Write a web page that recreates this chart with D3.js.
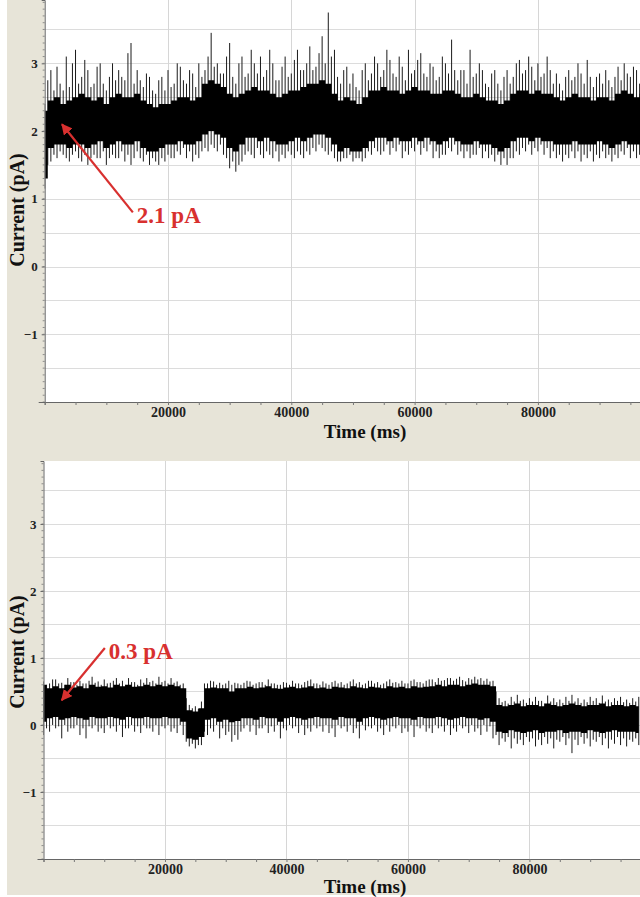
<!DOCTYPE html>
<html><head><meta charset="utf-8">
<script src="https://cdn.jsdelivr.net/npm/d3@7"></script>
<style>html,body{margin:0;padding:0;background:#fff;}svg{display:block;}</style>
</head><body>
<svg id="chart" width="640" height="897"></svg>
<script>
// ---------- data ----------
const coreTimes = d3.range(0, 98001, 1000);   // ms, dense-band samples (every 1 s)
const spikeTimes = d3.range(0, 98001, 500);   // ms, extreme samples (every 0.5 s)
const xTickValues = [20000, 40000, 60000, 80000];
const yTickValues = [-1, 0, 1, 2, 3];

// Top trace: dense band (pA), one value per second
const topCoreLow = [1.3,1.75,1.8,1.8,1.75,1.8,1.8,1.75,1.8,1.85,
1.75,1.8,1.85,1.8,1.8,1.85,1.75,1.7,1.7,1.75,
1.8,1.8,1.85,1.8,1.8,1.85,1.95,2.0,1.95,1.9,
1.75,1.7,1.8,1.9,1.9,1.85,1.9,1.85,1.8,1.8,
1.85,1.9,1.85,1.9,1.95,1.95,1.9,1.8,1.7,1.75,
1.7,1.7,1.75,1.85,1.9,1.9,1.85,1.9,1.85,1.85,
1.9,1.85,1.9,1.85,1.8,1.85,1.9,1.85,1.8,1.8,
1.85,1.8,1.8,1.75,1.7,1.75,1.85,1.9,1.9,1.85,
1.9,1.85,1.85,1.8,1.8,1.8,1.85,1.8,1.8,1.8,
1.85,1.8,1.75,1.8,1.85,1.8,1.8,1.8,1.85];
const topCoreHigh = [2.3,2.45,2.5,2.4,2.45,2.5,2.55,2.5,2.45,2.5,
2.4,2.5,2.55,2.5,2.5,2.55,2.45,2.4,2.35,2.4,
2.4,2.45,2.5,2.5,2.45,2.5,2.7,2.75,2.7,2.65,
2.55,2.5,2.55,2.6,2.65,2.6,2.6,2.55,2.5,2.55,
2.6,2.6,2.65,2.7,2.7,2.75,2.7,2.55,2.45,2.5,
2.45,2.4,2.5,2.6,2.6,2.65,2.6,2.6,2.55,2.6,
2.65,2.6,2.6,2.55,2.55,2.6,2.6,2.55,2.5,2.5,
2.55,2.5,2.45,2.45,2.4,2.45,2.55,2.6,2.6,2.55,
2.6,2.55,2.55,2.5,2.45,2.5,2.55,2.5,2.5,2.45,
2.5,2.5,2.45,2.55,2.6,2.55,2.5,2.55,2.5];
// Top trace: extremes (pA), one value per half second
const topMax = [2.4,2.75, 2.9,2.6, 2.95,2.7, 2.6,3.1, 2.65,3.0,
3.2,2.7, 2.8,3.05, 2.9,2.65, 2.7,2.95, 3.0,2.7,
2.6,2.8, 3.0,2.75, 2.9,2.8, 2.75,3.15, 3.3,2.7,
2.9,2.75, 2.65,2.85, 2.8,2.6, 2.55,2.75, 2.8,2.6,
2.9,2.65, 2.7,3.0, 2.95,2.75, 2.7,2.9, 2.85,2.65,
3.0,2.8, 2.9,3.1, 3.45,2.95, 3.0,2.85, 2.85,3.1,
3.3,2.8, 2.7,3.0, 3.1,2.8, 2.85,3.2, 3.0,2.85,
3.1,2.8, 2.9,3.2, 3.0,2.75, 2.75,2.95, 3.1,2.8,
2.85,3.05, 3.2,2.9, 2.9,3.0, 3.25,2.9, 2.95,3.15,
3.4,3.0, 3.75,3.1, 3.2,2.8, 2.7,2.9, 2.95,2.7,
2.85,2.65, 2.6,2.9, 3.0,2.75, 2.85,3.1, 3.0,2.8,
2.9,3.2, 3.05,2.85, 2.8,3.1, 2.95,2.75, 3.2,2.85,
2.9,3.05, 3.15,2.85, 2.8,3.0, 2.95,2.75, 2.8,3.1,
3.0,2.85, 3.35,2.9, 2.75,2.9, 2.9,2.7, 3.2,2.8,
2.85,3.0, 2.9,2.7, 2.65,2.85, 2.9,2.7, 2.6,2.8,
2.9,2.7, 2.8,3.0, 3.05,2.85, 2.9,3.1, 2.95,2.75,
3.0,2.8, 2.85,3.1, 2.9,2.7, 2.85,2.7, 2.6,2.8,
2.9,2.75, 2.8,3.0, 2.85,2.7, 3.05,2.8, 2.65,2.8,
2.85,2.7, 2.9,2.75, 2.65,2.8, 2.95,2.75, 3.0,2.85,
2.8,2.95, 2.9,2.7, 2.75,2.85, 2.9];
const topMin = [1.15,1.5, 1.55,1.65, 1.6,1.7, 1.65,1.6, 1.55,1.65,
1.7,1.6, 1.55,1.65, 1.5,1.6, 1.65,1.6, 1.6,1.7,
1.5,1.6, 1.65,1.6, 1.6,1.7, 1.55,1.65, 1.5,1.6,
1.7,1.6, 1.55,1.65, 1.5,1.6, 1.55,1.5, 1.6,1.55,
1.65,1.6, 1.6,1.7, 1.65,1.75, 1.6,1.7, 1.55,1.65,
1.6,1.7, 1.75,1.7, 1.8,1.75, 1.7,1.8, 1.65,1.6,
1.45,1.55, 1.4,1.5, 1.55,1.65, 1.7,1.65, 1.6,1.75,
1.65,1.6, 1.7,1.65, 1.6,1.7, 1.55,1.65, 1.6,1.7,
1.65,1.6, 1.7,1.65, 1.6,1.7, 1.65,1.75, 1.7,1.8,
1.75,1.7, 1.65,1.7, 1.6,1.55, 1.55,1.6, 1.6,1.65,
1.55,1.6, 1.6,1.55, 1.6,1.7, 1.65,1.75, 1.7,1.65,
1.7,1.8, 1.65,1.75, 1.7,1.8, 1.6,1.7, 1.65,1.75,
1.7,1.8, 1.65,1.75, 1.7,1.8, 1.6,1.7, 1.6,1.65,
1.65,1.75, 1.7,1.8, 1.65,1.7, 1.6,1.7, 1.6,1.65,
1.65,1.75, 1.6,1.7, 1.6,1.65, 1.55,1.65, 1.5,1.6,
1.5,1.6, 1.6,1.7, 1.65,1.75, 1.7,1.8, 1.65,1.75,
1.7,1.8, 1.65,1.75, 1.6,1.7, 1.6,1.65, 1.55,1.65,
1.6,1.7, 1.6,1.7, 1.55,1.65, 1.6,1.7, 1.55,1.65,
1.6,1.7, 1.6,1.65, 1.55,1.65, 1.6,1.7, 1.65,1.75,
1.6,1.7, 1.6,1.65, 1.6,1.7, 1.65];

// Bottom trace: dense band (pA), one value per second
const botCoreLow = [0.05,0.1,0.12,0.08,0.1,0.12,0.1,0.08,0.12,0.1,0.1,0.12,0.1,0.08,0.12,0.1,0.1,0.12,0.1,0.1,0.12,0.1,0.1,0.05,
-0.2,-0.22,-0.18,
0.08,0.1,0.05,0.08,0.04,0.06,0.1,
0.1,0.08,0.12,0.1,0.1,0.05,0.1,0.12,0.1,0.08,0.1,0.12,0.1,0.1,0.08,0.12,0.1,0.1,0.05,0.1,0.12,0.1,0.08,0.1,0.12,0.1,0.1,0.08,0.12,0.1,0.1,0.12,0.1,0.08,0.1,0.12,0.1,0.1,0.08,0.1,0.05,
-0.1,-0.12,-0.08,-0.1,-0.12,-0.1,-0.08,-0.12,-0.1,-0.1,-0.08,-0.12,-0.1,-0.1,-0.12,-0.08,-0.1,-0.12,-0.1,-0.08,-0.1,-0.1,-0.1,-0.12];
const botCoreHigh = [0.6,0.55,0.58,0.55,0.6,0.56,0.58,0.55,0.6,0.57,0.58,0.56,0.6,0.58,0.6,0.57,0.58,0.6,0.58,0.6,0.58,0.6,0.58,0.55,
0.22,0.2,0.25,
0.55,0.56,0.55,0.55,0.5,0.55,0.55,
0.57,0.55,0.56,0.58,0.55,0.54,0.56,0.57,0.55,0.56,0.58,0.55,0.56,0.54,0.57,0.56,0.55,0.58,0.56,0.55,0.57,0.56,0.55,0.58,0.56,0.57,0.55,0.58,0.56,0.57,0.58,0.6,0.58,0.6,0.6,0.58,0.6,0.62,0.6,0.6,0.58,
0.3,0.28,0.3,0.32,0.28,0.3,0.3,0.28,0.32,0.3,0.28,0.3,0.32,0.3,0.28,0.3,0.3,0.32,0.28,0.3,0.3,0.28,0.3,0.28];
// Bottom trace: extremes (pA), one value per half second
const botMax = [0.65,0.6, 0.62,0.68, 0.68,0.62, 0.63,0.6, 0.7,0.64,
0.64,0.6, 0.66,0.62, 0.62,0.66, 0.72,0.63, 0.65,0.6,
0.68,0.62, 0.63,0.66, 0.7,0.62, 0.66,0.6, 0.7,0.64,
0.64,0.6, 0.68,0.63, 0.7,0.64, 0.66,0.62, 0.72,0.64,
0.66,0.62, 0.7,0.63, 0.65,0.6, 0.62,0.4,
0.3,0.25, 0.28,0.24, 0.35,0.62,
0.62,0.66, 0.65,0.6, 0.63,0.6, 0.62,0.66, 0.6,0.63, 0.62,0.6, 0.63,0.66,
0.65,0.6, 0.62,0.64, 0.64,0.6, 0.68,0.62, 0.62,0.6,
0.6,0.64, 0.63,0.6, 0.66,0.62, 0.62,0.6, 0.64,0.66,
0.68,0.62, 0.62,0.6, 0.65,0.62, 0.6,0.64, 0.66,0.62,
0.64,0.6, 0.62,0.65, 0.68,0.62, 0.64,0.6, 0.62,0.66,
0.66,0.62, 0.64,0.6, 0.62,0.65, 0.68,0.63, 0.64,0.62,
0.66,0.62, 0.62,0.66, 0.68,0.64, 0.64,0.62, 0.66,0.68,
0.68,0.64, 0.7,0.66, 0.67,0.7, 0.7,0.66, 0.69,0.72,
0.67,0.65, 0.7,0.68, 0.72,0.68, 0.7,0.66, 0.69,0.65,
0.66,0.5,
0.4,0.34, 0.36,0.32, 0.42,0.35, 0.45,0.36, 0.38,0.33,
0.4,0.35, 0.42,0.36, 0.36,0.32, 0.44,0.35, 0.4,0.34,
0.38,0.33, 0.42,0.36, 0.45,0.35, 0.4,0.33, 0.38,0.34,
0.42,0.36, 0.4,0.33, 0.44,0.35, 0.38,0.34, 0.4,0.36,
0.42,0.34, 0.38,0.33, 0.4,0.35, 0.42];
const botMin = [-0.15,-0.05, -0.1,0.0, -0.05,-0.02, -0.2,0.0, -0.1,-0.05,
-0.05,0.0, -0.15,-0.05, -0.2,-0.02, -0.05,0.0, -0.1,-0.05,
-0.12,0.0, -0.05,-0.02, -0.1,0.0, -0.18,-0.05, -0.05,0.0,
-0.1,-0.02, -0.12,0.0, -0.05,-0.05, -0.1,0.0, -0.15,-0.02,
-0.05,0.0, -0.1,-0.05, -0.12,0.0, -0.15,-0.25,
-0.32,-0.28, -0.35,-0.3, -0.3,-0.1,
-0.15,-0.05, -0.1,0.0, -0.2,-0.05, -0.15,-0.1, -0.25,-0.15, -0.22,-0.1, -0.05,0.0,
-0.1,0.0, -0.15,-0.05, -0.05,0.0, -0.12,-0.02, -0.1,0.0,
-0.2,-0.05, -0.08,0.0, -0.05,-0.02, -0.12,0.0, -0.15,-0.05,
-0.1,0.0, -0.05,-0.02, -0.1,0.0, -0.12,-0.05, -0.18,0.0,
-0.05,-0.02, -0.1,0.0, -0.12,-0.05, -0.2,0.0, -0.08,-0.02,
-0.05,0.0, -0.1,-0.05, -0.15,0.0, -0.1,-0.02, -0.05,0.0,
-0.12,-0.05, -0.1,0.0, -0.18,-0.02, -0.05,0.0, -0.1,-0.05,
-0.12,0.0, -0.05,-0.02, -0.1,0.0, -0.15,-0.05, -0.1,0.0,
-0.05,-0.02, -0.12,0.0, -0.1,-0.05, -0.15,0.0, -0.1,-0.02,
-0.2,-0.15,
-0.3,-0.2, -0.25,-0.18, -0.35,-0.2, -0.28,-0.22, -0.3,-0.18,
-0.25,-0.2, -0.32,-0.22, -0.3,-0.18, -0.28,-0.2, -0.35,-0.22,
-0.25,-0.18, -0.3,-0.2, -0.42,-0.22, -0.3,-0.18, -0.28,-0.2,
-0.32,-0.22, -0.25,-0.18, -0.3,-0.2, -0.35,-0.22, -0.28,-0.18,
-0.3,-0.2, -0.32,-0.22, -0.25,-0.2, -0.3];

// Annotations: [label, tipTime, tipValue, tailTime, tailValue]
const topAnnotation = ["2.1 pA", 2800, 2.1, 14300, 0.8];
const botAnnotation = ["0.3 pA", 3000, 0.37, 10100, 1.15];

// ---------- drawing ----------
const svg = d3.select("#chart");
const BEIGE = "#e7e4d8";
const RED = "#d8302f";
const SERIF = "'Liberation Serif','Times New Roman',serif";

svg.append("rect").attr("x", 7).attr("y", 0).attr("width", 633).attr("height", 895).attr("fill", BEIGE);

const defs = svg.append("defs");
defs.append("marker").attr("id", "arrowhead")
  .attr("viewBox", "0 0 10 10").attr("refX", 9).attr("refY", 5)
  .attr("markerWidth", 5).attr("markerHeight", 5).attr("markerUnits", "strokeWidth")
  .attr("orient", "auto")
  .append("path").attr("d", "M0,0 L10,5 L0,10 z").attr("fill", RED);

function panel(cfg) {
  const x = d3.scaleLinear().domain([0, cfg.tMax]).range([cfg.left, 640]);
  const y = d3.scaleLinear().domain([-2, cfg.vMax]).range([cfg.bottom, cfg.top]);
  const g = svg.append("g");
  const clipId = "clip" + cfg.id;
  defs.append("clipPath").attr("id", clipId).append("rect")
    .attr("x", cfg.left).attr("y", cfg.top).attr("width", 640 - cfg.left).attr("height", cfg.bottom - cfg.top);

  g.append("rect").attr("x", cfg.left).attr("y", cfg.top)
    .attr("width", 640 - cfg.left).attr("height", cfg.bottom - cfg.top).attr("fill", "#fff");

  // gridlines
  const hGrid = d3.range(-1.5, 4, 0.5);
  g.append("g").selectAll("line").data(hGrid).join("line")
    .attr("x1", cfg.left).attr("x2", 640)
    .attr("y1", d => Math.round(y(d)) + 0.5).attr("y2", d => Math.round(y(d)) + 0.5)
    .attr("stroke", "#dcdcdc").attr("stroke-width", 1);
  g.append("g").selectAll("line").data(xTickValues).join("line")
    .attr("y1", cfg.top).attr("y2", cfg.bottom)
    .attr("x1", d => Math.round(x(d)) + 0.5).attr("x2", d => Math.round(x(d)) + 0.5)
    .attr("stroke", "#d6d6d6").attr("stroke-width", 1);

  // trace
  const trace = g.append("g").attr("clip-path", `url(#${clipId})`);
  const spikes = spikeTimes.map((t, i) => ({t, mn: cfg.mn[i], mx: cfg.mx[i]}))
    .filter(d => d.mn !== undefined && d.mx !== undefined);
  trace.append("g").selectAll("line").data(spikes).join("line")
    .attr("x1", d => x(d.t)).attr("x2", d => x(d.t))
    .attr("y1", d => y(d.mn)).attr("y2", d => y(d.mx))
    .attr("stroke", "#1a1a1a").attr("stroke-width", 1);
  const core = coreTimes.map((t, i) => ({t, lo: cfg.lo[i], hi: cfg.hi[i]}))
    .filter(d => d.lo !== undefined && d.hi !== undefined);
  const area = d3.area().x(d => x(d.t)).y0(d => y(d.lo)).y1(d => y(d.hi)).curve(d3.curveStep);
  trace.append("path").datum(core).attr("d", area).attr("fill", "#000");

  // axes
  const yAxis = d3.axisLeft(y).tickValues(yTickValues).tickSize(3).tickFormat(d3.format("d"));
  const ya = g.append("g").attr("transform", `translate(${cfg.left},0)`).call(yAxis);
  g.append("g").selectAll("line").data(d3.range(-2, cfg.vMax, 0.1)).join("line")
    .attr("x1", cfg.left - 2).attr("x2", cfg.left)
    .attr("y1", d => y(d)).attr("y2", d => y(d)).attr("stroke", "#777").attr("stroke-width", 0.8);
  ya.select(".domain").attr("stroke", "#666");
  ya.selectAll(".tick line").attr("stroke", "#666");
  ya.selectAll("text").attr("font-family", SERIF).attr("font-weight", "bold")
    .attr("font-size", 13).attr("fill", "#222").attr("x", -7);

  const xAxis = d3.axisBottom(x).tickValues(d3.range(0, cfg.tMax, 5000)).tickSize(3)
    .tickFormat(d => xTickValues.includes(d) ? d3.format("d")(d) : "");
  const xa = g.append("g").attr("transform", `translate(0,${cfg.bottom})`).call(xAxis);
  xa.select(".domain").attr("stroke", "#666");
  xa.selectAll(".tick line").attr("stroke", "#777");
  xa.selectAll("text").attr("font-family", SERIF).attr("font-weight", "bold")
    .attr("font-size", 14).attr("fill", "#222").attr("y", 5);
  g.append("line").attr("x1", cfg.left - 6).attr("x2", cfg.left).attr("y1", cfg.bottom + 0.5).attr("y2", cfg.bottom + 0.5).attr("stroke", "#666");

  // axis titles
  g.append("text").attr("x", 365).attr("y", cfg.bottom + cfg.titleDy).attr("text-anchor", "middle")
    .attr("font-family", SERIF).attr("font-weight", "bold").attr("font-size", 19).attr("fill", "#111")
    .text("Time (ms)");
  g.append("text").attr("transform", `translate(24,${cfg.titleY}) rotate(-90)`).attr("text-anchor", "middle")
    .attr("font-family", SERIF).attr("font-weight", "bold").attr("font-size", 20).attr("fill", "#111")
    .text("Current (pA)");

  // annotation
  const [label, tt, tv, lt, lv] = cfg.ann;
  g.append("line").attr("x1", x(lt)).attr("y1", y(lv)).attr("x2", x(tt)).attr("y2", y(tv))
    .attr("stroke", RED).attr("stroke-width", 2.2).attr("marker-end", "url(#arrowhead)");
  g.append("text").attr("x", x(lt) + 4).attr("y", y(lv) + 11)
    .attr("font-family", SERIF).attr("font-weight", "bold").attr("font-size", 23).attr("fill", RED)
    .text(label);
}

panel({id: "top", left: 44.7, top: 0, bottom: 402, tMax: 96560, vMax: 3.935, titleY: 210, titleDy: 36,
  lo: topCoreLow, hi: topCoreHigh, mn: topMin, mx: topMax, ann: topAnnotation});
panel({id: "bot", left: 43.5, top: 461, bottom: 859, tMax: 98200, vMax: 3.94, titleY: 652, titleDy: 34,
  lo: botCoreLow, hi: botCoreHigh, mn: botMin, mx: botMax, ann: botAnnotation});
</script>
</body></html>
